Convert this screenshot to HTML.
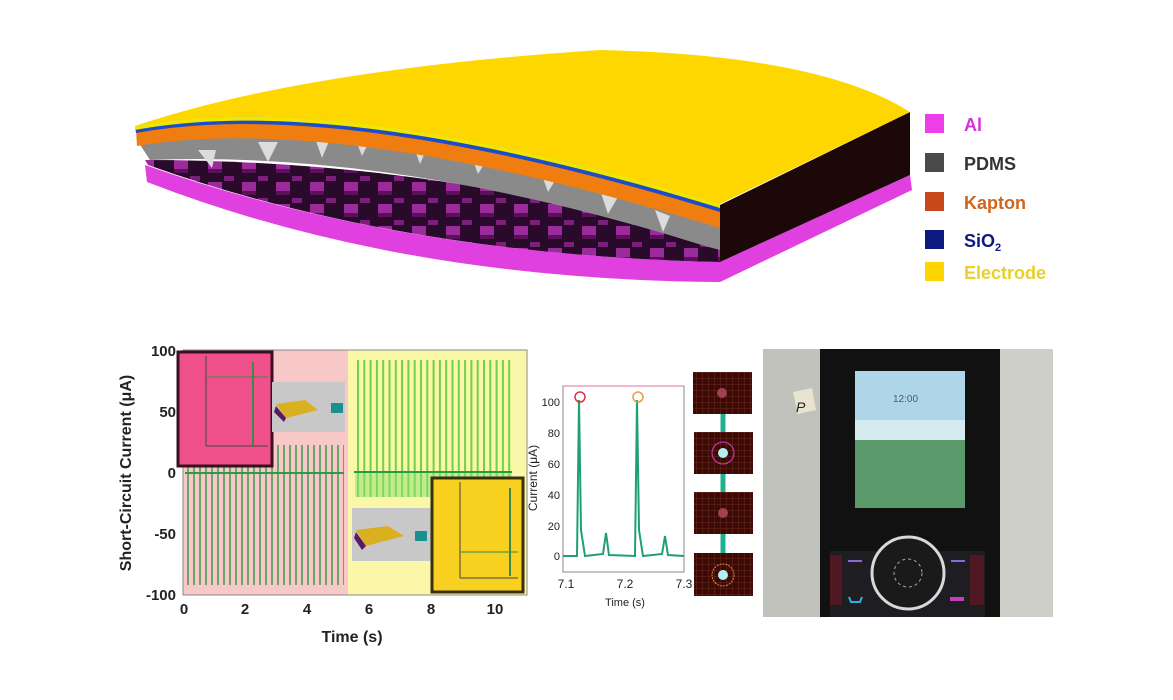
<!DOCTYPE html>
<html><head><meta charset="utf-8"><style>
html,body{margin:0;padding:0;background:#fff;}
svg{display:block;font-family:"Liberation Sans",Arial,sans-serif;}
</style></head><body>
<svg width="1173" height="700" viewBox="0 0 1173 700" xmlns="http://www.w3.org/2000/svg">
<defs>
<pattern id="sp1" x="187" y="0" width="6" height="10" patternUnits="userSpaceOnUse"><rect x="0" y="0" width="2" height="10" fill="#6aa86a"/></pattern>
<pattern id="sp2" x="357" y="0" width="6.3" height="10" patternUnits="userSpaceOnUse"><rect x="0" y="0" width="2" height="10" fill="#6fd04a"/></pattern>
<pattern id="grid" width="6" height="6" patternUnits="userSpaceOnUse"><rect width="6" height="6" fill="#3a0a08"/><path d="M0 0H6M0 0V6" stroke="#6a2a1a" stroke-width="1"/></pattern>
<pattern id="cubes" width="34" height="22" patternUnits="userSpaceOnUse"><rect width="34" height="22" fill="#2a0a2a"/><rect x="4" y="6" width="14" height="9" fill="#9b2a9b"/><rect x="4" y="15" width="14" height="4" fill="#5a115a"/><rect x="20" y="0" width="10" height="5" fill="#7a1f7a"/></pattern>
</defs>

<path d="M145 165 Q400 255 720 262 L910 175 L912 190 L720 282 Q400 280 147 182 Z" fill="#e040e0"/>
<path d="M148 165 Q400 255 720 262 L720 245 Q450 160 145 160 Z" fill="url(#cubes)"/>
<path d="M720 205 L910 112 L910 175 L720 262 Z" fill="#1c0808"/>
<path d="M137 140 Q340 100 720 225 L720 250 L705 246 Q400 150 150 160 Z" fill="#8a8a8a"/>
<g fill="#dcdcdc">
<polygon points="198,150 216,150 212,168"/><polygon points="258,142 278,142 268,162"/><polygon points="315,138 330,139 322,158"/>
<polygon points="355,138 370,140 362,156"/><polygon points="412,142 428,146 420,164"/><polygon points="470,152 488,158 478,174"/>
<polygon points="540,170 558,176 548,192"/><polygon points="600,190 618,197 608,214"/><polygon points="655,210 670,216 663,232"/>
</g>
<path d="M136 130 Q340 92 720 210 L720 228 Q340 112 137 146 Z" fill="#f07d10"/>
<path d="M135 126 Q340 88 720 204 L720 212 Q340 96 136 133 Z" fill="#1c4cc8"/>
<path d="M135 126 Q300 70 600 50 Q820 55 910 112 L720 204 Q340 88 135 126 Z" fill="#ffd700"/>
<path d="M135 126 Q340 88 720 204 L720 208 Q340 92 135 130 Z" fill="#f2e600"/>

<g font-weight="bold" font-size="18">
<rect x="925" y="114" width="19" height="19" fill="#ee3ee8"/><text x="964" y="131" fill="#d630d6">Al</text>
<rect x="925" y="153" width="19" height="19" fill="#4a4a4a"/><text x="964" y="170" fill="#333">PDMS</text>
<rect x="925" y="192" width="19" height="19" fill="#c8481a"/><text x="964" y="209" fill="#d0641c">Kapton</text>
<rect x="925" y="230" width="19" height="19" fill="#0c1a80"/><text x="964" y="247" fill="#0c1a80">SiO<tspan font-size="11" dy="4">2</tspan></text>
<rect x="925" y="262" width="19" height="19" fill="#ffd400"/><text x="964" y="279" fill="#e8d22a">Electrode</text>
</g>

<rect x="183" y="350" width="165" height="245" fill="#f8c8c8"/>
<rect x="348" y="350" width="179" height="245" fill="#fbf7a8"/>
<rect x="183" y="350" width="344" height="245" fill="none" stroke="#888" stroke-width="1"/>
<rect x="187" y="445" width="157" height="140" fill="url(#sp1)"/>
<line x1="185" y1="473" x2="344" y2="473" stroke="#2a9a4a" stroke-width="2"/>
<rect x="355" y="360" width="157" height="137" fill="url(#sp2)"/>
<rect x="355" y="473" width="157" height="24" fill="#8ee070" opacity="0.5"/>
<line x1="354" y1="472" x2="512" y2="472" stroke="#2a9a4a" stroke-width="2"/>
<g font-weight="bold" font-size="15" fill="#222" text-anchor="end">
<text x="176" y="356">100</text><text x="176" y="417">50</text><text x="176" y="478">0</text><text x="176" y="539">-50</text><text x="176" y="600">-100</text>
</g>
<g font-weight="bold" font-size="15" fill="#222" text-anchor="middle">
<text x="184" y="614">0</text><text x="245" y="614">2</text><text x="307" y="614">4</text><text x="369" y="614">6</text><text x="431" y="614">8</text><text x="495" y="614">10</text>
<text x="352" y="642" font-size="16">Time (s)</text>
</g>
<text transform="translate(131,473) rotate(-90)" text-anchor="middle" font-weight="bold" font-size="16" fill="#222">Short-Circuit Current (μA)</text>
<rect x="178" y="352" width="94" height="114" fill="#f0508a" stroke="#3a1020" stroke-width="3"/>
<line x1="206" y1="356" x2="206" y2="446" stroke="#444"/><line x1="206" y1="446" x2="268" y2="446" stroke="#444"/>
<line x1="206" y1="377" x2="268" y2="377" stroke="#3a8a4a"/><line x1="253" y1="362" x2="253" y2="446" stroke="#3a8a4a" stroke-width="2"/>
<rect x="272" y="382" width="73" height="50" fill="#c8c8c8"/>
<polygon points="276,404 305,400 318,410 286,418" fill="#d8b020"/><polygon points="276,406 286,418 284,422 274,412" fill="#5a1a60"/>
<rect x="331" y="403" width="12" height="10" fill="#1a9090"/>
<rect x="352" y="508" width="80" height="53" fill="#c8c8c8"/>
<polygon points="356,530 388,526 404,536 366,546" fill="#d8b020"/><polygon points="356,532 366,546 362,550 354,538" fill="#5a1a60"/>
<rect x="415" y="531" width="12" height="10" fill="#1a9090"/>
<rect x="432" y="478" width="91" height="114" fill="#f8d020" stroke="#3a3010" stroke-width="3"/>
<line x1="460" y1="482" x2="460" y2="578" stroke="#444"/><line x1="460" y1="578" x2="518" y2="578" stroke="#444"/>
<line x1="460" y1="552" x2="518" y2="552" stroke="#3a8a4a"/><line x1="510" y1="488" x2="510" y2="576" stroke="#3a8a4a" stroke-width="2"/>

<rect x="563" y="386" width="121" height="186" fill="#fff" stroke="#888"/>
<line x1="563" y1="386" x2="684" y2="386" stroke="#e07090"/>
<path d="M563 556 L577 556 L579 400 L581 530 L585 556 L603 554 L606 533 L609 555 L635 556 L637 400 L639 530 L643 556 L662 554 L665 536 L668 555 L684 556" fill="none" stroke="#20a070" stroke-width="2"/>
<circle cx="580" cy="397" r="5" fill="none" stroke="#e03040" stroke-width="1.5"/>
<circle cx="638" cy="397" r="5" fill="none" stroke="#e0a040" stroke-width="1.5"/>
<g font-size="11" fill="#222" text-anchor="end">
<text x="560" y="406">100</text><text x="560" y="437">80</text><text x="560" y="468">60</text><text x="560" y="499">40</text><text x="560" y="530">20</text><text x="560" y="560">0</text>
</g>
<g font-size="12" fill="#222" text-anchor="middle">
<text x="566" y="588">7.1</text><text x="625" y="588">7.2</text><text x="684" y="588">7.3</text><text x="625" y="606" font-size="11">Time (s)</text>
</g>
<text transform="translate(537,478) rotate(-90)" text-anchor="middle" font-size="12" fill="#222">Current (μA)</text>

<line x1="723" y1="414" x2="723" y2="553" stroke="#20b090" stroke-width="5"/>
<rect x="693" y="372" width="59" height="42" fill="url(#grid)"/><circle cx="722" cy="393" r="5" fill="#a04050"/>
<rect x="694" y="432" width="59" height="42" fill="url(#grid)"/><circle cx="723" cy="453" r="11" fill="none" stroke="#d040c0"/><circle cx="723" cy="453" r="5" fill="#b0f0f0"/>
<rect x="694" y="492" width="59" height="42" fill="url(#grid)"/><circle cx="723" cy="513" r="5" fill="#a04050"/>
<rect x="694" y="553" width="59" height="43" fill="url(#grid)"/><circle cx="723" cy="575" r="11" fill="none" stroke="#e09030" stroke-dasharray="2 1"/><circle cx="723" cy="575" r="5" fill="#b0f0f0"/>

<rect x="763" y="349" width="290" height="268" fill="#cfcfca"/>
<rect x="763" y="349" width="60" height="268" fill="#c2c2bd"/>
<polygon points="793,392 812,388 816,410 798,414" fill="#e8e4d0"/>
<text x="796" y="412" font-size="14" font-style="italic" fill="#222">P</text>
<rect x="820" y="349" width="180" height="268" fill="#111"/>
<rect x="855" y="371" width="110" height="137" fill="#aed6e8"/>
<rect x="855" y="440" width="110" height="68" fill="#5a9a6a"/>
<rect x="855" y="420" width="110" height="20" fill="#d4ecef"/>
<text x="893" y="402" font-size="10" fill="#557">12:00</text>
<rect x="830" y="551" width="155" height="66" fill="#1e1e22"/>
<circle cx="908" cy="573" r="36" fill="#1a1a1a" stroke="#d8d8d8" stroke-width="3"/>
<circle cx="908" cy="573" r="14" fill="none" stroke="#aaa" stroke-width="1" stroke-dasharray="3 3"/>
<rect x="830" y="555" width="12" height="50" fill="#501820"/><rect x="970" y="555" width="14" height="50" fill="#501820"/>
<line x1="848" y1="561" x2="862" y2="561" stroke="#8a6ad0" stroke-width="2"/><line x1="951" y1="561" x2="965" y2="561" stroke="#8a6ad0" stroke-width="2"/>
<path d="M849 597 L851 602 L860 602 L862 597" fill="none" stroke="#30b0e0" stroke-width="2"/>
<rect x="950" y="597" width="14" height="4" fill="#c040c0"/>
</svg>
</body></html>
